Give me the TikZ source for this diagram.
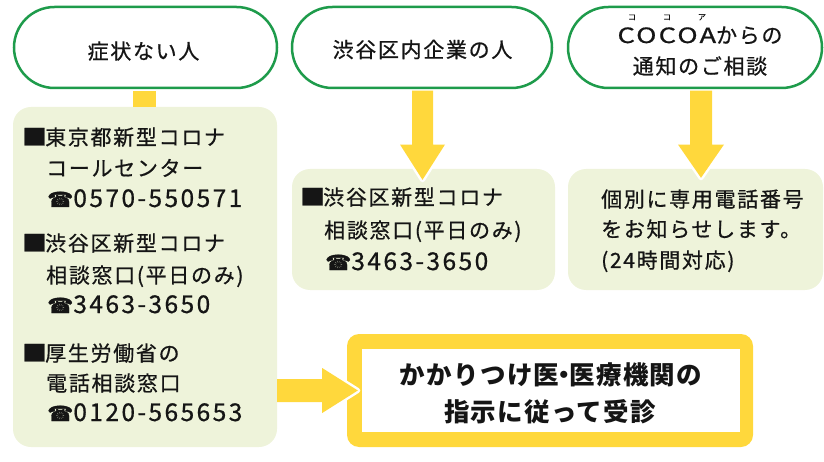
\documentclass[tikz,border=0pt]{standalone}
\usepackage{fontspec}
\usepackage{graphicx}
\usetikzlibrary{shapes.misc,calc}
\setmainfont{Noto Sans CJK JP}
\newfontfamily\jp[LetterSpace=8,FakeBold=0.7]{Noto Sans CJK JP}
\newfontfamily\jpnum[LetterSpace=10,FakeBold=0.7]{Noto Sans CJK JP}
\newfontfamily\jpbold[LetterSpace=5]{Noto Sans CJK JP}
\newfontfamily\symf[FakeBold=1.5]{DejaVu Sans}
\definecolor{grn}{HTML}{1E9B4B}
\definecolor{yel}{HTML}{FFD83C}
\definecolor{pale}{HTML}{EEF3DA}
\definecolor{inkc}{HTML}{151515}
\newcommand{\tel}[1]{{\symf\fontsize{21}{21}\selectfont ☎}{\jpnum\fontsize{24.5}{24.5}\selectfont #1}}
\newcommand{\sq}{\makebox[23pt][l]{\scalebox{1.18}[1.04]{■}}}
\tikzset{
  pill/.style={rounded rectangle, draw=grn, line width=2.5pt, fill=white, inner sep=0pt},
  infobox/.style={rectangle, rounded corners=18pt, fill=pale, inner sep=0pt},
  txt/.style={inner sep=0pt, text=inkc, font=\jp\fontsize{21}{21}\selectfont},
  bigtxt/.style={inner sep=0pt, text=inkc, font=\jpbold\bfseries\fontsize{25.5}{25.5}\selectfont},
  rubytxt/.style={inner sep=0pt, text=inkc, font=\jp\fontsize{8}{8}\selectfont},
}
\begin{document}
\begin{tikzpicture}[x=1pt,y=-1pt]
\useasboundingbox (0,0) rectangle (824,462);
% boxes
\node[infobox, minimum width=263pt, minimum height=121pt] (mb) at (423.5,229.5) {};
\node[infobox, minimum width=255pt, minimum height=121pt] (rb) at (695.5,229.5) {};
\node[rectangle, rounded corners=12pt, fill=yel, minimum width=406pt, minimum height=113pt, inner sep=0pt] (bb) at (550,390.5) {};
\node[rectangle, fill=white, minimum width=378pt, minimum height=83pt, inner sep=0pt] (bbi) at (551,390.5) {};
\node[infobox, minimum width=264pt, minimum height=340pt] (lb) at (145,277) {};
% pills
\node[pill, minimum width=263pt, minimum height=81pt] (p1) at (145.5,47.5) {};
\node[pill, minimum width=260pt, minimum height=81pt] (p2) at (422,47.5) {};
\node[pill, minimum width=254pt, minimum height=81pt] (p3) at (695,47.5) {};
% connector pill1 -> left box
\fill[yel] ($(p1.south)+(-12.5,1.3)$) rectangle ($(lb.north)+(10.5,0)$);
% arrow pill2 -> middle box
\coordinate (a2s) at ($(p2.south)+(0.5,1.3)$);
\coordinate (a2t) at ($(a2s |- mb.north)+(0,11)$);
\draw[white, line width=5pt, line join=round] ($(a2s)+(-22.5,54)$) -- (a2t) -- ($(a2s)+(22.5,54)$);
\fill[yel] ($(a2s)+(-10.5,0)$) -- ($(a2s)+(10.5,0)$) -- ($(a2s)+(10.5,54)$) -- ($(a2s)+(22.5,54)$) -- (a2t) -- ($(a2s)+(-22.5,54)$) -- ($(a2s)+(-10.5,54)$) -- cycle;
% arrow pill3 -> right box
\coordinate (a3s) at ($(p3.south)+(6,1.3)$);
\coordinate (a3t) at ($(a3s |- rb.north)+(0,9)$);
\draw[white, line width=5pt, line join=round] ($(a3s)+(-23,54)$) -- (a3t) -- ($(a3s)+(23,54)$);
\fill[yel] ($(a3s)+(-11,0)$) -- ($(a3s)+(11,0)$) -- ($(a3s)+(11,54)$) -- ($(a3s)+(23,54)$) -- (a3t) -- ($(a3s)+(-23,54)$) -- ($(a3s)+(-11,54)$) -- cycle;
% arrow left box -> bottom box
\coordinate (a4s) at (lb.east |- bb.west);
\coordinate (a4t) at ($(bb.west)+(11,0)$);
\draw[white, line width=5pt, line join=round] ($(a4s)+(45,-22.5)$) -- (a4t) -- ($(a4s)+(45,22.5)$);
\fill[yel] ($(a4s)+(0,-11.5)$) -- ($(a4s)+(45,-11.5)$) -- ($(a4s)+(45,-22.5)$) -- (a4t) -- ($(a4s)+(45,22.5)$) -- ($(a4s)+(45,11.5)$) -- ($(a4s)+(0,11.5)$) -- cycle;
% pill texts
\node[txt, anchor=base] (tp1) at (143.5,59) {症状ない人};
\node[txt, anchor=base] (tp2) at (422.5,57.5) {渋谷区内企業の人};
\node[txt, anchor=base] (tp3a) at (700,43) {\scalebox{1.3}[1]{COCOA}からの};
\node[txt, anchor=base] (tp3b) at (700,74) {通知のご相談};
\node[rubytxt, anchor=base] (r1) at (632,20) {コ};
\node[rubytxt, anchor=base] (r2) at (667,20) {コ};
\node[rubytxt, anchor=base] (r3) at (702,20) {ア};
% left box texts
\node[txt, anchor=base west] (l1) at (22,145) {\sq 東京都新型コロナ};
\node[txt, anchor=base west] (l2) at (46,176) {コールセンター};
\node[txt, anchor=base west] (l3) at (47,207) {\tel{0570-550571}};
\node[txt, anchor=base west] (l4) at (22,251) {\sq 渋谷区新型コロナ};
\node[txt, anchor=base west] (l5) at (46,283) {相談窓口(平日のみ)};
\node[txt, anchor=base west] (l6) at (47,313) {\tel{3463-3650}};
\node[txt, anchor=base west] (l7) at (22,361) {\sq 厚生労働省の};
\node[txt, anchor=base west] (l8) at (46,391) {電話相談窓口};
\node[txt, anchor=base west] (l9) at (47,421) {\tel{0120-565653}};
% middle box texts
\node[txt, anchor=base west] (m1) at (300,205) {\sq 渋谷区新型コロナ};
\node[txt, anchor=base west] (m2) at (324,238) {相談窓口(平日のみ)};
\node[txt, anchor=base west] (m3) at (325,270) {\tel{3463-3650}};
% right box texts
\node[txt, anchor=base west] (rt1) at (601,207) {個別に専用電話番号};
\node[txt, anchor=base west] (rt2) at (601,237) {をお知らせします。};
\node[txt, anchor=base west] (rt3) at (601,268) {(24時間対応)};
% bottom box texts
\node[bigtxt, anchor=base] (b1) at (551,384) {かかりつけ医\kern-0.3em・\kern-0.3em 医療機関の};
\node[bigtxt, anchor=base] (b2) at (550,421) {指示に従って受診};
\end{tikzpicture}
\end{document}
